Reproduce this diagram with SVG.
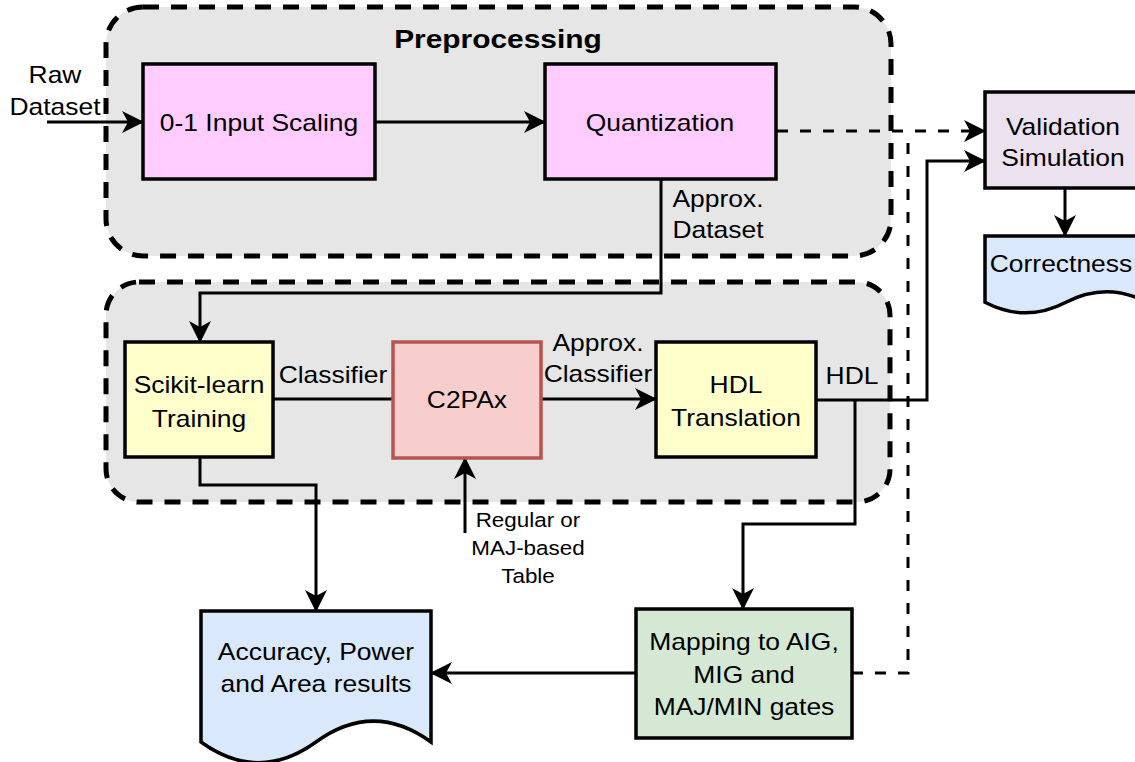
<svg xmlns="http://www.w3.org/2000/svg" width="1135" height="762" viewBox="0 0 1135 762">
<style>
text { font-family: "Liberation Sans", Arial, sans-serif; font-size: 23px; fill: #000; text-anchor: middle; transform-box: fill-box; transform-origin: center; transform: scaleX(1.15); }
.title { font-size: 26px; font-weight: bold; }
.small { font-size: 19.5px; }
.grp { fill: #e6e6e6; stroke: #000; stroke-width: 5; stroke-dasharray: 16 12; }
.box { stroke: #000; stroke-width: 3.5; }
.pink { fill: #ffccff; }
.yellow { fill: #ffffcc; }
.red { fill: #f8cecc; stroke: #b85450; }
.green { fill: #d5e8d4; }
.purple { fill: #ebe1ef; }
.blue { fill: #dae8fc; }
.edge { fill: none; stroke: #000; stroke-width: 3; }
.dash { stroke-dasharray: 11 12; }
.arr { marker-end: url(#arrow); }
</style>
<defs>
<marker id="arrow" viewBox="0 0 22 22" markerWidth="22" markerHeight="22" refX="21" refY="11" orient="auto" markerUnits="userSpaceOnUse">
<path d="M0,0 L22,11 L0,22 L6,11 Z" fill="#000"/>
</marker>
</defs>
<rect width="1135" height="762" fill="#fff"/>

<g id="group-preprocessing">
<rect class="grp" x="106" y="7" width="785" height="249" rx="37" ry="37"/>
<text class="title" x="498" y="48">Preprocessing</text>
</g>
<g id="group-training">
<rect class="grp" x="106" y="282" width="784" height="220" rx="33" ry="33"/>
</g>

<g id="connectors">
<path class="edge arr" d="M47,122 L143,122"/>
<path class="edge arr" d="M375,122 L545,122"/>
<path class="edge dash arr" d="M777,131 L985,131"/>
<path class="edge dash" d="M852,673 L908,673 L908,133"/>
<path class="edge arr" d="M661,179 L661,293 L200,293 L200,342"/>
<path class="edge" d="M273,399 L393,399"/>
<path class="edge arr" d="M541,399 L656,399"/>
<path class="edge arr" d="M816,400 L927,400 L927,161 L985,161"/>
<path class="edge arr" d="M855,400 L855,524 L743,524 L743,609"/>
<path class="edge arr" d="M200,457 L200,485 L316,485 L316,611"/>
<path class="edge arr" d="M465,533 L465,458"/>
<path class="edge arr" d="M636,673 L431,673"/>
<path class="edge arr" d="M1065,188 L1065,236"/>
<text x="55" y="83">Raw</text>
<text x="55" y="115">Dataset</text>
<text x="718" y="207">Approx.</text>
<text x="718" y="238">Dataset</text>
<text x="333" y="383">Classifier</text>
<text x="598" y="351">Approx.</text>
<text x="598" y="382">Classifier</text>
<text x="852" y="384">HDL</text>
<text class="small" x="528" y="527">Regular or</text>
<text class="small" x="528" y="555">MAJ-based</text>
<text class="small" x="528" y="583">Table</text>
</g>

<g id="node-input-scaling">
<rect class="box pink" x="143" y="64" width="232" height="115"/>
<text x="259" y="131">0-1 Input Scaling</text>
</g>
<g id="node-quantization">
<rect class="box pink" x="545" y="64" width="231" height="115"/>
<text x="660" y="131">Quantization</text>
</g>
<g id="node-validation">
<rect class="box purple" x="985" y="92" width="162" height="96"/>
<text x="1063" y="135">Validation</text>
<text x="1063" y="166">Simulation</text>
</g>
<g id="node-correctness">
<path class="box blue" d="M985,236 L1147,236 L1147,302.3 Q1106.5,281.2 1066,302.3 Q1025.5,323.4 985,302.3 Z"/>
<text x="1061" y="272">Correctness</text>
</g>
<g id="node-scikit">
<rect class="box yellow" x="125" y="342" width="148" height="115"/>
<text x="199" y="393">Scikit-learn</text>
<text x="199" y="427">Training</text>
</g>
<g id="node-c2pax">
<rect class="box red" x="393" y="342" width="148" height="116"/>
<text x="467" y="408">C2PAx</text>
</g>
<g id="node-hdl">
<rect class="box yellow" x="656" y="342" width="160" height="115"/>
<text x="736" y="393">HDL</text>
<text x="736" y="426">Translation</text>
</g>
<g id="node-mapping">
<rect class="box green" x="636" y="609" width="216" height="129"/>
<text x="744" y="650">Mapping to AIG,</text>
<text x="744" y="683">MIG and</text>
<text x="744" y="715">MAJ/MIN gates</text>
</g>
<g id="node-results">
<path class="box blue" d="M201,611 L431,611 L431,742 Q373.5,700.3 316,742 Q258.5,783.5 201,742 Z"/>
<text x="316" y="660">Accuracy, Power</text>
<text x="316" y="692">and Area results</text>
</g>
</svg>
